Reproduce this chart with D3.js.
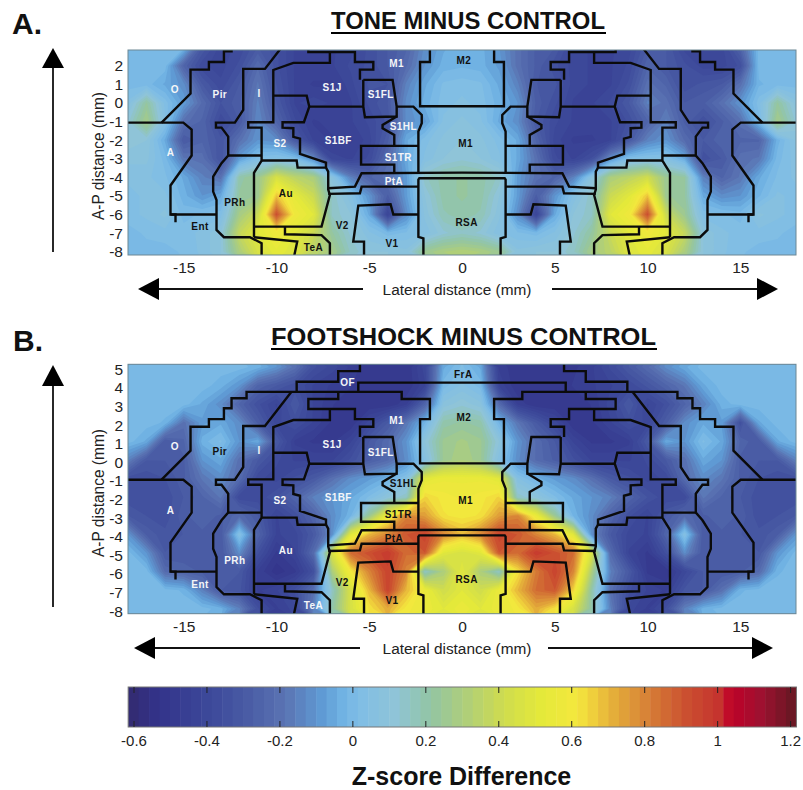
<!DOCTYPE html>
<html>
<head>
<meta charset="utf-8">
<script src="https://cdn.jsdelivr.net/npm/d3@7"></script>
<style>
  html, body { margin: 0; background: #fff; }
  text { font-family: "Liberation Sans", Arial, sans-serif; fill: #111; }
  .tick text { font-size: 15.5px; fill: #222; }
  .boundary { fill: none; stroke: #0b0b0b; stroke-width: 2.4; stroke-linejoin: miter; }
  .region { font-size: 10px; font-weight: bold; letter-spacing: .4px; text-anchor: middle; dominant-baseline: central; }
</style>
</head>
<body>
<svg id="chart" width="803" height="790"></svg>
<script>
// lateral positions of the heatmap columns (mm)
const lateral = d3.range(-18, 19)
const lateralTicks = [-15, -10, -5, 0, 5, 10, 15]

const toneApTicks = [2, 1, 0, -1, -2, -3, -4, -5, -6, -7, -8]
const shockApTicks = [5, 4, 3, 2, 1, 0, -1, -2, -3, -4, -5, -6, -7, -8]

const toneApRows = [3, 2, 1, 0, -1, -2, -3, -4, -5, -6, -7, -8]
const shockApRows = [5, 4, 3, 2, 1, 0, -1, -2, -3, -4, -5, -6, -7, -8]

// z-score difference, one row per A-P position
const toneZ = [
  [0,0,0,0,-.3,-.4,-.38,-.3,-.35,-.42,-.42,-.42,-.4,-.35,-.3,-.25,-.12,-.05,-.02, -.03,-.1,-.2,-.28,-.3,-.4,-.42,-.42,-.4,-.3,-.3,-.4,-.42,-.4,-.25,0,0,0],
  [0,0,0,-.25,-.38,-.4,-.35,-.22,-.35,-.42,-.42,-.42,-.38,-.35,-.3,-.22,-.1,-.03,-.02, -.03,-.08,-.2,-.28,-.35,-.4,-.42,-.42,-.38,-.25,-.3,-.35,-.4,-.4,-.35,0,0,0],
  [0,0,-.05,-.12,-.3,-.38,-.3,-.18,-.33,-.42,-.45,-.45,-.4,-.32,-.33,-.15,-.05,.02,.03, .02,-.05,-.15,-.3,-.32,-.4,-.42,-.42,-.35,-.2,-.25,-.35,-.32,-.3,-.2,-.02,0,0],
  [.05,.22,.03,-.08,-.22,-.33,-.28,-.15,-.3,-.42,-.4,-.42,-.42,-.35,-.3,-.12,-.03,.03,.05, .03,-.03,-.1,-.28,-.35,-.42,-.42,-.38,-.3,-.15,-.2,-.3,-.28,-.2,-.1,.03,.22,.08],
  [.12,.28,.05,-.2,-.25,-.38,-.3,-.13,-.25,-.38,-.45,-.43,-.42,-.38,-.32,-.12,-.08,.05,.08, .05,-.05,-.12,-.3,-.38,-.42,-.43,-.42,-.35,-.25,-.15,-.28,-.35,-.28,-.2,0,.28,.12],
  [.12,.1,-.05,-.3,-.25,-.32,-.2,-.1,-.12,-.3,-.42,-.45,-.45,-.4,-.28,-.05,.03,.08,.1, .08,.03,-.05,-.25,-.4,-.45,-.45,-.42,-.3,-.15,-.1,-.22,-.3,-.25,-.25,-.25,-.03,.08],
  [.08,.08,0,-.18,-.2,-.33,-.08,.03,.05,.02,-.12,-.4,-.42,-.38,-.22,-.05,.05,.1,.12, .1,.05,-.05,-.2,-.38,-.42,-.35,-.1,.03,.05,.05,-.05,-.35,-.3,-.2,-.18,0,.06],
  [.05,.05,.02,-.05,-.15,-.2,.2,.25,.45,.35,.3,.08,-.15,-.25,-.2,-.08,.15,.2,.22, .2,.15,-.08,-.2,-.25,-.15,.08,.3,.35,.42,.25,.22,-.15,-.25,-.18,-.05,.02,.05],
  [.03,.05,.05,-.03,-.1,-.05,.22,.25,.68,.52,.4,.15,.05,-.1,-.28,-.08,.1,.2,.22, .2,.1,-.08,-.28,-.1,.05,.15,.4,.5,.68,.25,.22,-.05,-.12,-.1,-.02,.05,.03],
  [.03,.05,.08,0,.02,.03,.28,.4,.92,.58,.5,.15,.1,-.05,-.42,-.12,.08,.18,.2, .18,.08,-.12,-.42,-.05,.1,.15,.5,.58,.92,.4,.25,.03,.02,0,.08,.05,.03],
  [0,.02,.03,.03,.05,.1,.38,.5,.58,.5,.4,.22,.12,.05,0,.02,.05,.12,.15, .12,.05,.02,0,.05,.12,.22,.4,.5,.58,.5,.38,.1,.05,.03,.03,.02,0],
  [0,0,0,.02,.05,.1,.3,.45,.52,.48,.35,.28,.15,.1,.1,.08,.25,.3,.32, .3,.25,.08,.1,.1,.15,.28,.35,.48,.52,.45,.3,.1,.05,.02,0,0,0]
]

const shockZ = [
  [0,0,0,0,0,0,0,-.03,-.1,-.2,-.35,-.4,-.45,-.5,-.5,-.5,-.4,-.05,.02, -.05,-.45,-.5,-.5,-.5,-.48,-.45,-.38,-.3,-.22,-.12,-.05,0,0,0,0,0,0],
  [0,0,0,0,0,-.03,-.1,-.25,-.3,-.35,-.42,-.45,-.47,-.5,-.5,-.5,-.42,0,.05, 0,-.42,-.5,-.5,-.5,-.47,-.45,-.42,-.38,-.32,-.25,-.18,-.05,0,0,0,0,0],
  [0,0,0,0,-.05,-.12,-.25,-.35,-.42,-.3,-.42,-.47,-.5,-.5,-.5,-.45,-.25,.08,.12, .08,-.22,-.45,-.5,-.5,-.5,-.47,-.4,-.3,-.42,-.35,-.25,-.15,-.03,0,0,0,0],
  [0,0,-.02,-.2,-.08,-.05,-.12,-.28,-.4,-.35,-.42,-.48,-.5,-.4,-.3,-.18,-.02,.2,.22, .2,-.02,-.18,-.3,-.4,-.5,-.48,-.42,-.35,-.4,-.28,-.12,-.05,-.08,-.35,-.05,0,0],
  [0,-.05,-.3,-.25,-.03,.02,-.1,-.05,-.3,-.45,-.48,-.48,-.42,-.3,-.22,-.1,.1,.25,.28, .25,.1,-.1,-.22,-.3,-.42,-.48,-.48,-.45,-.3,-.05,-.1,.02,-.05,-.25,-.3,-.05,0],
  [-.15,-.3,-.3,-.28,-.1,-.05,-.2,-.3,-.38,-.42,-.42,-.42,-.35,-.28,-.22,-.12,.05,.25,.3, .25,.05,-.12,-.22,-.28,-.35,-.42,-.42,-.42,-.38,-.3,-.2,-.05,-.1,-.28,-.3,-.3,-.15],
  [-.35,-.35,-.33,-.28,-.18,-.12,-.22,-.38,-.4,-.35,-.3,-.2,-.12,-.08,-.03,.05,.5,.55,.55, .55,.5,.05,-.03,-.08,-.12,-.2,-.3,-.35,-.4,-.38,-.22,-.12,-.18,-.28,-.33,-.35,-.35],
  [-.35,-.35,-.35,-.3,-.25,-.18,-.38,-.38,-.33,-.25,-.15,-.1,-.05,.02,.1,.15,.65,.6,.58, .6,.65,.15,.1,.02,-.05,-.1,-.15,-.25,-.33,-.38,-.38,-.18,-.25,-.3,-.35,-.35,-.35],
  [-.3,-.33,-.35,-.28,-.25,-.28,-.22,-.3,-.42,-.35,-.25,-.12,-.02,.25,.55,.8,.75,.62,.6, .62,.75,.8,.55,.25,-.02,-.12,-.25,-.35,-.42,-.3,-.22,-.28,-.25,-.28,-.35,-.33,-.3],
  [-.1,-.28,-.32,-.3,-.28,-.3,.05,-.25,-.42,-.4,-.3,-.12,.5,.7,.8,.9,.95,.8,.7, .8,.95,.9,.8,.7,.5,-.12,-.3,-.4,-.42,-.25,.05,-.3,-.28,-.3,-.32,-.28,-.1],
  [0,-.1,-.3,-.3,-.3,-.3,-.12,-.35,-.48,-.42,-.22,.45,.85,.92,.98,.85,.9,.5,.45, .5,.9,.85,.98,.92,.85,.45,-.22,-.42,-.48,-.35,-.12,-.3,-.3,-.3,-.3,-.1,0],
  [0,0,-.22,-.25,-.28,-.3,-.3,-.45,-.52,-.48,-.35,.3,.6,.8,.95,.8,.15,.3,.5, .3,.15,.62,.82,.95,.8,.3,-.15,-.3,-.48,-.5,-.4,-.3,-.3,-.28,-.22,-.02,0],
  [0,0,0,-.02,-.15,-.3,-.32,-.45,-.42,-.35,-.2,.15,.45,.7,.95,.7,.55,.42,.5, .42,.55,.7,.85,.9,.65,.2,-.2,-.35,-.42,-.45,-.32,-.3,-.2,-.02,0,0,0],
  [0,0,0,0,0,-.03,-.15,-.35,-.45,-.4,-.15,.2,.45,.62,.72,.6,.55,.5,.55, .5,.55,.6,.72,.62,.45,.2,-.15,-.4,-.45,-.35,-.15,-.03,0,0,0,0,0]
]

// colour bar
const colorTicks = [-.6, -.4, -.2, 0, .2, .4, .6, .8, 1, 1.2]
const colorStopValues = [-.62, -.55, -.4, -.3, -.2, -.1, -.04, 0, .1, .2, .3, .4, .5, .6, .65, .7, .8, .9, 1, 1.02, 1.1, 1.22]
const colorStopHex = ["#332c73", "#33338a", "#3d4a9b", "#4a5ca5", "#5a74b3", "#5f9ad4", "#71b3e4", "#7fbde6", "#8fc4d8", "#93c5a3", "#b0cf78", "#cfdc4e", "#e4e93a", "#f4e83e", "#eecb3c", "#e4ae3a", "#d67d36", "#cb4f30", "#c4302e", "#bf0028", "#a01030", "#581a20"]

// atlas boundaries of the left hemisphere in mm, drawn mirrored as well
const boundaries = [
  [[-16.19,-1.06],[-14.63,.5],[-14.63,1.79],[-13.64,1.79],[-13.64,2.2],[-12.83,2.2],[-12.83,2.78],[-12.42,2.78],[-12.42,3.32],[-11.61,3.32],[-11.61,3.66],[-3.25,3.66],[-3.25,3.28],[-1.73,3.28],[-1.73,2.2],[-2.26,2.2],[-2.26,-.18],[0,-.18]],
  [[-18,-1.06],[-15.02,-1.06],[-14.57,-1.43],[-14.57,-2.83],[-15.71,-4.44],[-15.71,-6],[-15.44,-6],[-15.44,-6.42]],
  [[-15.71,-6],[-13.23,-6]],
  [[-9.2,3.66],[-10.62,1.83],[-11.79,1.83],[-11.79,-.38],[-12.24,-1.06],[-13.26,-1.06],[-13.26,-1.33],[-12.96,-1.33],[-12.6,-1.81],[-12.6,-2.83],[-12.96,-3.24],[-13.41,-3.96],[-13.41,-4.77],[-13.23,-5.22],[-13.23,-6.83],[-12.83,-7.22],[-11.43,-7.22],[-10.8,-7.54],[-10.8,-8.3]],
  [[-12.6,-2.83],[-10.8,-2.83]],
  [[-6.67,3.66],[-6.67,3.28],[-8.28,3.28],[-8.28,2.74],[-5.77,2.74],[-5.77,2.2],[-4.78,2.2],[-4.78,1.79],[-5.5,1.79],[-5.5,1.24]],
  [[-7.12,2.74],[-7.12,2.15],[-9.09,2.15],[-10.17,1.77],[-10.17,-1.04],[-11.52,-1.04],[-11.52,-1.33],[-10.8,-1.33],[-10.8,-3.1],[-11.21,-3.76],[-11.21,-7.22]],
  [[-10.17,.39],[-8.37,.39],[-8.23,-.2],[-8.52,-1.04],[-9.67,-1.04],[-9.67,-1.33],[-9.09,-1.36],[-9.09,-1.83],[-8.73,-1.92],[-8.73,-2.74],[-7.33,-3.21],[-7.33,-3.48]],
  [[-10.8,-3.1],[-8.91,-3.1],[-8.86,-3.48],[-7.33,-3.48],[-7.21,-3.69],[-7.21,-4.66],[-7.12,-4.95],[-7.57,-6.65],[-11.21,-6.65]],
  [[-11.21,-7.22],[-8.88,-7.46],[-9.06,-8.3]],
  [[-9.54,-6.65],[-9.54,-7.06],[-7.57,-7.11],[-7.12,-7.54],[-7.12,-8.3]],
  [[-7.21,-4.59],[-5.77,-4.5],[-5.41,-3.78],[0,-3.75]],
  [[-7.21,-4.89],[-5.5,-4.86],[-5.41,-4.5],[-2.35,-4.5]],
  [[-5.28,-8.3],[-5.28,-7.46],[-5.86,-7.46],[-5.59,-5.52],[-3.85,-5.45],[-3.7,-6],[-2.35,-6]],
  [[0,-4.05],[-2.3,-4.05],[-2.35,-4.12],[-2.35,-7.2],[-2.08,-7.28],[-2.08,-8.3]],
  [[-5.32,1.24],[-3.74,1.24],[-3.52,-.2],[-3.52,-.73],[-5.23,-.77],[-5.32,-.2],[-5.32,1.24]],
  [[-8.23,-.2],[-5.32,-.2]],
  [[-3.52,-.2],[-2.62,-.2],[-2.17,-.65],[-2.17,-1.09],[-2.35,-1.54],[-2.35,-3.78]],
  [[-3.52,-.73],[-4.28,-1.18],[-4.28,-1.36],[-3.65,-1.72],[-3.65,-2.29]],
  [[-2.35,-2.31],[-5.44,-2.31],[-5.44,-3.32],[-3.65,-3.32],[-3.65,-3.78]],
  [[-8.91,3.66],[-8.91,4.21],[-6.67,4.21],[-6.67,4.78],[-5.5,4.78],[-5.5,5.4]],
  [[-5.59,3.66],[-5.59,4.16],[0,4.16]]
]

const regionNames = ["O", "Pir", "I", "S1J", "S1FL", "M1", "M2", "S1HL", "S1BF", "S2", "M1", "A", "Au", "PRh", "Ent", "TeA", "V2", "V1", "RSA", "PtA", "S1TR", "OF", "FrA"]
const regionX = [-15.47, -13.05, -10.93, -7, -4.38, -3.52, .1, -3.16, -6.67, -9.81, .2, -15.71, -9.49, -12.24, -14.12, -8.01, -6.45, -3.77, .25, -3.67, -3.43, -6.16, .07]
const regionY = [.72, .47, .5, .81, .43, 2.11, 2.26, -1.25, -2, -2.17, -2.17, -2.69, -4.86, -5.38, -6.67, -7.8, -6.6, -7.56, -6.42, -4.23, -2.92, 4.16, 4.6]
const toneLabelColor = ["w", "w", "w", "w", "w", "w", "k", "w", "w", "w", "k", "w", "k", "k", "k", "k", "k", "k", "k", "w", "w", "", ""]
const shockLabelColor = ["w", "k", "w", "w", "w", "w", "k", "k", "w", "w", "k", "w", "w", "w", "w", "w", "k", "k", "k", "k", "k", "w", "k"]

const svg = d3.select("#chart")

const x = d3.scaleLinear().domain([-18, 18]).range([128, 796])
const colorLevels = d3.range(64).map(i => -.616 + i * 1.832 / 64)
const colorOf = d3.scaleLinear().domain(colorStopValues).range(colorStopHex).clamp(true)

function drawPanel(id, apRows, z, ticks, labelColors, top, bottom, zeroY, tickShift) {
  let y = d3.scaleLinear().domain([0, -8]).range([zeroY, zeroY + 8 * 18.6])
  let g = svg.append("g")

  g.append("clipPath").attr("id", id)
    .append("rect")
    .attr("x", x(-18)).attr("y", top)
    .attr("width", x(18) - x(-18)).attr("height", bottom - top)

  let plot = g.append("g").attr("clip-path", `url(#${id})`)

  plot.append("rect")
    .attr("x", x(-18)).attr("y", top)
    .attr("width", x(18) - x(-18)).attr("height", bottom - top)
    .attr("fill", colorOf(colorLevels[0]))

  // grid space of d3.contours -> mm -> pixels
  let gridX = d3.scaleLinear().domain([0, lateral.length]).range([x(lateral[0] - .5), x(lateral[lateral.length - 1] + .5)])
  let gridY = d3.scaleLinear().domain([0, apRows.length]).range([y(apRows[0] + .5), y(apRows[apRows.length - 1] - .5)])
  let path = d3.geoPath(d3.geoTransform({
    point(px, py) { this.stream.point(gridX(px), gridY(py)) }
  }))

  let contours = d3.contours()
    .size([lateral.length, apRows.length])
    .thresholds(colorLevels)(z.flat())

  plot.selectAll("path.level")
    .data(contours)
    .enter()
    .append("path")
    .classed("level", true)
    .attr("d", path)
    .attr("fill", d => colorOf(d.value))

  let line = sign => d3.line().x(d => x(sign * d[0])).y(d => y(d[1]))
  ;[1, -1].forEach(sign => {
    plot.selectAll(null)
      .data(boundaries)
      .enter()
      .append("path")
      .classed("boundary", true)
      .attr("d", line(sign))
  })

  plot.selectAll("text.region")
    .data(regionNames.map((name, i) => ({ name, i })).filter(d => labelColors[d.i]))
    .enter()
    .append("text")
    .classed("region", true)
    .attr("x", d => x(regionX[d.i]))
    .attr("y", d => y(regionY[d.i]))
    .style("fill", d => labelColors[d.i] === "w" ? "#f4f6f8" : "#111")
    .text(d => d.name)

  g.append("rect")
    .attr("x", x(-18)).attr("y", top)
    .attr("width", x(18) - x(-18)).attr("height", bottom - top)
    .attr("fill", "none").attr("stroke", "#6d8794")

  g.append("g")
    .attr("transform", `translate(${x(-18)}, ${tickShift})`)
    .call(d3.axisLeft(y).tickValues(ticks).tickSize(0).tickPadding(5).tickFormat(String))
    .call(a => a.select(".domain").remove())

  g.append("g")
    .attr("transform", `translate(0, ${bottom})`)
    .call(d3.axisBottom(x).tickValues(lateralTicks).tickSize(0).tickPadding(7).tickFormat(String))
    .call(a => a.select(".domain").remove())
}

drawPanel("clipA", toneApRows, toneZ, toneApTicks, toneLabelColor, 50, 255, 102.9, 0)
drawPanel("clipB", shockApRows, shockZ, shockApTicks, shockLabelColor, 364.3, 613.7, 460, 2.3)

function arrow(x1, y1, x2, y2, baseLength) {
  let a = Math.atan2(y2 - y1, x2 - x1)
  let bx = x2 - baseLength * Math.cos(a), by = y2 - baseLength * Math.sin(a)
  let nx = -Math.sin(a) * 11, ny = Math.cos(a) * 11
  svg.append("line")
    .attr("x1", x1).attr("y1", y1).attr("x2", bx).attr("y2", by)
    .attr("stroke", "#111").attr("stroke-width", 1.8)
  svg.append("path")
    .attr("d", `M${x2},${y2}L${bx + nx},${by + ny}L${bx - nx},${by - ny}Z`)
    .attr("fill", "#000")
}

arrow(53, 252, 53, 48, 20)
arrow(363, 289, 138, 289, 21)
arrow(552, 289, 778, 289, 21)
arrow(53, 607, 53, 365, 21)
arrow(360, 648, 134, 648, 21)
arrow(548, 648, 773, 648, 21)

function bigText(label, px, py, size, anchor) {
  return svg.append("text")
    .attr("x", px).attr("y", py)
    .attr("text-anchor", anchor || "start")
    .style("font-size", size + "px")
    .style("font-weight", "bold")
    .text(label)
}

bigText("A.", 12, 34, 30)
bigText("B.", 13, 351, 30)

bigText("TONE MINUS CONTROL", 331, 29, 24.5).attr("textLength", 274).attr("lengthAdjust", "spacingAndGlyphs")
bigText("FOOTSHOCK MINUS CONTROL", 271, 345, 24.5).attr("textLength", 385).attr("lengthAdjust", "spacingAndGlyphs")
svg.append("line").attr("x1", 331).attr("x2", 606).attr("y1", 33).attr("y2", 33).attr("stroke", "#000").attr("stroke-width", 2)
svg.append("line").attr("x1", 271).attr("x2", 657).attr("y1", 349).attr("y2", 349).attr("stroke", "#000").attr("stroke-width", 2)

;[156, 493].forEach(cy => {
  svg.append("text")
    .attr("transform", `translate(103.5, ${cy}) rotate(-90)`)
    .attr("text-anchor", "middle")
    .attr("textLength", 128)
    .attr("lengthAdjust", "spacingAndGlyphs")
    .style("font-size", "16px")
    .style("fill", "#222")
    .text("A-P distance (mm)")
})

;[295, 654].forEach(py => {
  svg.append("text")
    .attr("x", 457).attr("y", py)
    .attr("text-anchor", "middle")
    .style("font-size", "15.4px")
    .style("fill", "#222")
    .text("Lateral distance (mm)")
})

// colour bar
let barX = d3.scaleLinear().domain([-.6, 1.2]).range([134, 790.6])
let barTop = 687, barBottom = 727

svg.append("g").selectAll("rect")
  .data(colorLevels)
  .enter()
  .append("rect")
  .attr("x", d => barX(d))
  .attr("y", barTop)
  .attr("width", barX(1.832 / 64 - .6) - barX(-.6) + .5)
  .attr("height", barBottom - barTop)
  .attr("fill", d => colorOf(d))

svg.append("rect")
  .attr("x", barX(-.616)).attr("y", barTop)
  .attr("width", barX(1.216) - barX(-.616)).attr("height", barBottom - barTop)
  .attr("fill", "none").attr("stroke", "#777")

let barTicks = svg.append("g").selectAll("g")
  .data(colorTicks)
  .enter()
  .append("g")

barTicks.append("line")
  .attr("x1", d => barX(d)).attr("x2", d => barX(d))
  .attr("y1", barTop).attr("y2", barTop + 6)
  .attr("stroke", "#222")

barTicks.append("line")
  .attr("x1", d => barX(d)).attr("x2", d => barX(d))
  .attr("y1", barBottom - 6).attr("y2", barBottom)
  .attr("stroke", "#222")

barTicks.append("text")
  .attr("x", d => barX(d))
  .attr("y", 746)
  .attr("text-anchor", "middle")
  .style("font-size", "15px")
  .style("fill", "#222")
  .text(d => String(d))

bigText("Z-score Difference", 461.5, 785, 25, "middle")
</script>
</body>
</html>
